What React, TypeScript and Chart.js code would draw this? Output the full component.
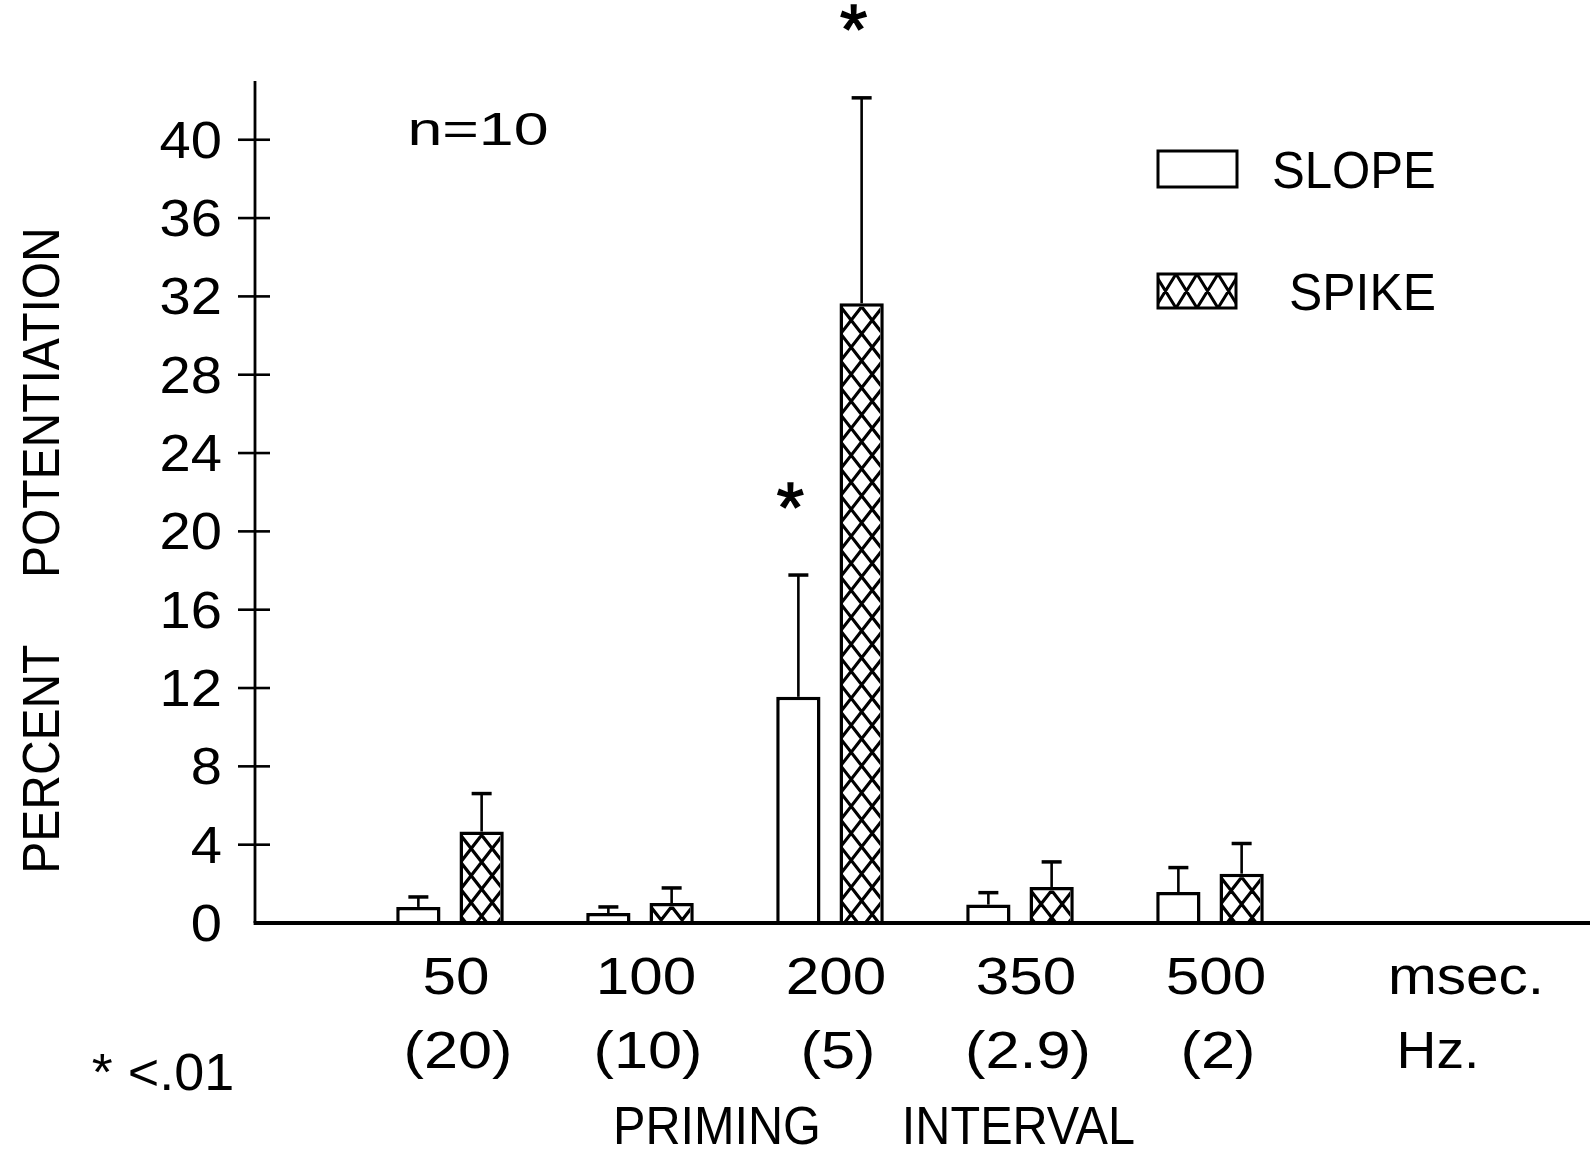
import React, { useEffect, useRef } from "react";
import { Chart, registerables } from "chart.js";

Chart.register(...registerables);

// ---- data ----
const intervals = ["50", "100", "200", "350", "500"];
const frequencies = ["(20)", "(10)", "(5)", "(2.9)", "(2)"];
const slopeMeans = [0.82, 0.51, 11.55, 0.94, 1.58];
const slopeErrors = [0.51, 0.31, 6.22, 0.61, 1.25];
const spikeMeans = [4.67, 1.02, 31.65, 1.84, 2.52];
const spikeErrors = [1.94, 0.77, 10.49, 1.28, 1.54];
const slopeSignificant = [false, false, true, false, false];
const spikeSignificant = [false, false, true, false, false];
const yTicks = [0, 4, 8, 12, 16, 20, 24, 28, 32, 36, 40];
const seriesNames = ["SLOPE", "SPIKE"];

const FONT = '"Liberation Sans", Arial, Helvetica, sans-serif';

type Opts = { align?: CanvasTextAlign; sx?: number; width?: number; rotate?: number };

function drawText(ctx: CanvasRenderingContext2D, text: string, x: number, baseline: number, size: number, opts: Opts = {}) {
  ctx.save();
  ctx.font = `${size}px ${FONT}`;
  let sx = opts.sx ?? 1;
  if (opts.width) {
    const m = ctx.measureText(text);
    const w = m.actualBoundingBoxLeft + m.actualBoundingBoxRight;
    if (w > 0) sx = opts.width / w;
  }
  ctx.translate(x, baseline);
  if (opts.rotate) ctx.rotate(opts.rotate);
  ctx.scale(sx, 1);
  ctx.textAlign = opts.align ?? "left";
  ctx.textBaseline = "alphabetic";
  ctx.fillStyle = "#000";
  ctx.fillText(text, 0, 0);
  ctx.restore();
}

function drawStar(ctx: CanvasRenderingContext2D, cx: number, cy: number, size: number) {
  ctx.save();
  ctx.font = `${size}px ${FONT}`;
  ctx.textAlign = "center";
  ctx.textBaseline = "alphabetic";
  const m = ctx.measureText("*");
  const asc = m.actualBoundingBoxAscent;
  const desc = m.actualBoundingBoxDescent;
  ctx.fillStyle = "#000";
  ctx.strokeStyle = "#000";
  ctx.lineWidth = 1.5;
  const by = cy + (asc - desc) / 2;
  ctx.fillText("*", cx, by);
  ctx.strokeText("*", cx, by);
  ctx.restore();
}

function drawHatch(ctx: CanvasRenderingContext2D, left: number, top: number, right: number, bottom: number, cx: number, W: number, H: number, lw: number) {
  if (bottom - top < 1) return;
  const s = H / W;
  const h = bottom - top;
  ctx.save();
  ctx.beginPath();
  ctx.rect(left, top, right - left, h);
  ctx.clip();
  ctx.strokeStyle = "#000";
  ctx.lineWidth = lw;
  ctx.lineCap = "butt";
  ctx.beginPath();
  const n0 = Math.floor((left - cx - h / s) / W) - 2;
  const n1 = Math.ceil((right - cx + h / s) / W) + 2;
  for (let n = n0; n <= n1; n++) {
    const x0 = cx + n * W;
    ctx.moveTo(x0 - 2 * W, top - 2 * H);
    ctx.lineTo(x0 + (h + 2 * H) / s, top + h + 2 * H);
    ctx.moveTo(x0 + 2 * W, top - 2 * H);
    ctx.lineTo(x0 - (h + 2 * H) / s, top + h + 2 * H);
  }
  ctx.stroke();
  ctx.restore();
}

const BORDER = 3.5;

const paperPlugin = {
  id: "paper",
  beforeDraw(chart: any) {
    const ctx = chart.ctx as CanvasRenderingContext2D;
    ctx.save();
    ctx.fillStyle = "#fff";
    ctx.fillRect(0, 0, chart.width, chart.height);
    ctx.restore();
  },
  afterDatasetsDraw(chart: any) {
    const ctx = chart.ctx as CanvasRenderingContext2D;
    const yScale = chart.scales.y;
    const spikeMeta = chart.getDatasetMeta(1);
    spikeMeta.data.forEach((el: any) => {
      const p = el.getProps(["x", "y", "base", "width"], true);
      if (p.y == null || isNaN(p.y)) return;
      const left = p.x - p.width / 2 + BORDER;
      const right = p.x + p.width / 2 - BORDER;
      const top = p.y + BORDER;
      drawHatch(ctx, left, top, right, p.base, p.x, 21, 27, 3.2);
    });
    const errs = [slopeErrors, spikeErrors];
    const means = [slopeMeans, spikeMeans];
    [0, 1].forEach((di) => {
      const meta = chart.getDatasetMeta(di);
      meta.data.forEach((el: any, idx: number) => {
        const k = idx - 1;
        if (k < 0 || k >= intervals.length) return;
        const p = el.getProps(["x", "y"], true);
        const yTop = yScale.getPixelForValue(means[di][k] + errs[di][k]);
        ctx.save();
        ctx.strokeStyle = "#000";
        ctx.lineWidth = 2.6;
        ctx.beginPath();
        ctx.moveTo(p.x, p.y);
        ctx.lineTo(p.x, yTop);
        ctx.stroke();
        ctx.lineWidth = 3.5;
        ctx.beginPath();
        ctx.moveTo(p.x - 10, yTop);
        ctx.lineTo(p.x + 10, yTop);
        ctx.stroke();
        ctx.restore();
      });
    });
  },
  afterDraw(chart: any) {
    const ctx = chart.ctx as CanvasRenderingContext2D;
    const xScale = chart.scales.x;
    const yScale = chart.scales.y;
    const area = chart.chartArea;
    const axisX = area.left - 5;
    const y0 = yScale.getPixelForValue(0);

    ctx.save();
    ctx.strokeStyle = "#000";
    ctx.lineWidth = 2.8;
    ctx.beginPath();
    ctx.moveTo(axisX, area.top);
    ctx.lineTo(axisX, y0);
    ctx.stroke();
    ctx.lineWidth = 4;
    ctx.beginPath();
    ctx.moveTo(axisX - 1.4, y0);
    ctx.lineTo(chart.width, y0);
    ctx.stroke();
    ctx.lineWidth = 2.6;
    yTicks.forEach((v) => {
      if (v === 0) return;
      const y = yScale.getPixelForValue(v);
      ctx.beginPath();
      ctx.moveTo(axisX - 17, y);
      ctx.lineTo(axisX + 15, y);
      ctx.stroke();
    });
    ctx.restore();

    yTicks.forEach((v) => {
      const y = yScale.getPixelForValue(v);
      drawText(ctx, String(v), axisX - 33, y + 18, 51, { align: "right", sx: 1.1 });
    });

    intervals.forEach((lab, i) => {
      const x = xScale.getPixelForValue(i + 1) + 6;
      drawText(ctx, lab, x, 994, 51, { align: "center", sx: 1.18 });
      drawText(ctx, frequencies[i], x + 2, 1068, 51, { align: "center", sx: 1.2 });
    });
    drawText(ctx, "msec.", 1466, 994, 51, { align: "center", width: 148 });
    drawText(ctx, "Hz.", 1438, 1068, 51, { align: "center", width: 74 });
    drawText(ctx, "PRIMING      INTERVAL", 874, 1144, 53, { align: "center", width: 517 });

    drawText(ctx, "PERCENT     POTENTIATION", 58.5, 550.5, 51, { align: "center", width: 639, rotate: -Math.PI / 2 });

    drawText(ctx, "n=10", 478, 145, 46, { align: "center", width: 135 });
    drawText(ctx, "* <.01", 163, 1090, 51, { align: "center", width: 140 });

    ctx.save();
    ctx.strokeStyle = "#000";
    ctx.lineWidth = 3;
    ctx.fillStyle = "#fff";
    ctx.fillRect(1157, 150, 81, 38);
    ctx.strokeRect(1158, 151, 79, 36);
    ctx.fillRect(1157, 273, 80, 36);
    drawHatch(ctx, 1158, 274, 1236, 308, 1197, 21, 34, 3);
    ctx.strokeRect(1158, 274, 78, 34);
    ctx.restore();
    drawText(ctx, seriesNames[0], 1272, 188, 51, { align: "left", width: 160 });
    drawText(ctx, seriesNames[1], 1289, 310, 51, { align: "left", width: 143 });

    const sig = [slopeSignificant, spikeSignificant];
    const means = [slopeMeans, spikeMeans];
    const errs = [slopeErrors, spikeErrors];
    [0, 1].forEach((di) => {
      const meta = chart.getDatasetMeta(di);
      sig[di].forEach((flag, k) => {
        if (!flag) return;
        const el = meta.data[k + 1];
        const p = el.getProps(["x"], true);
        const yTop = yScale.getPixelForValue(means[di][k] + errs[di][k]);
        drawStar(ctx, p.x - 8, yTop - 80, 70);
      });
    });
  },
};

export default function App() {
  const ref = useRef<HTMLCanvasElement>(null);
  useEffect(() => {
    const canvas = ref.current;
    if (!canvas) return;
    const labels = ["", ...intervals, "", ""];
    const chart = new Chart(canvas, {
      type: "bar",
      data: {
        labels,
        datasets: [
          {
            label: seriesNames[0],
            data: [null, ...slopeMeans, null, null] as any,
            backgroundColor: "#ffffff",
            borderColor: "#000000",
            borderWidth: BORDER,
            categoryPercentage: 0.666,
            barPercentage: 0.7,
          },
          {
            label: seriesNames[1],
            data: [null, ...spikeMeans, null, null] as any,
            backgroundColor: "#ffffff",
            borderColor: "#000000",
            borderWidth: BORDER,
            categoryPercentage: 0.666,
            barPercentage: 0.7,
          },
        ],
      },
      options: {
        responsive: false,
        maintainAspectRatio: false,
        animation: false,
        devicePixelRatio: 1,
        layout: { padding: { left: 260, right: 0, top: 81, bottom: 235 } },
        plugins: { legend: { display: false }, tooltip: { enabled: false } },
        scales: {
          x: {
            type: "category",
            offset: false,
            display: false,
            grid: { display: false, offset: false },
          },
          y: {
            display: false,
            min: 0,
            max: 43,
            grid: { display: false },
          },
        },
      },
      plugins: [paperPlugin],
    });
    return () => chart.destroy();
  }, []);
  return (
    <div style={{ position: "absolute", left: 0, top: 0, width: 1590, height: 1158, background: "#fff", overflow: "hidden" }}>
      <canvas ref={ref} width={1590} height={1158} style={{ display: "block", width: 1590, height: 1158 }} />
    </div>
  );
}
